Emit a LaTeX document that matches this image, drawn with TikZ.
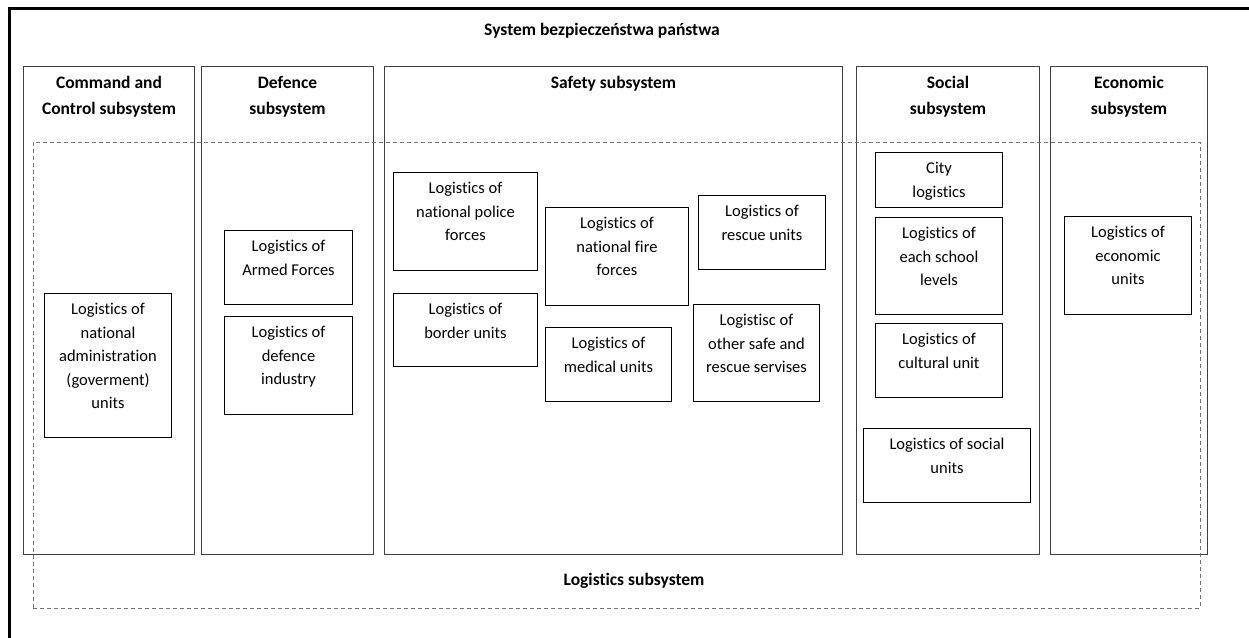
\documentclass[tikz,border=0pt]{standalone}
\usepackage{fontspec}
\setmainfont{Carlito}[Ligatures={NoCommon}]
\tikzset{
  sub/.style={draw=black!75, line width=1pt, anchor=north west, inner sep=0pt},
  lbox/.style={draw=black, line width=1pt, anchor=north west, inner sep=0pt},
  lbl/.style={font=\fontsize{16.5}{23.5}\selectfont, align=center, anchor=north, inner sep=0pt},
  hdr/.style={font=\bfseries\fontsize{17.5}{26}\selectfont, align=center, anchor=north, inner sep=0pt},
  logarea/.style={draw=black!55, line width=0.8pt, dash pattern=on 4pt off 3pt, anchor=north west, inner sep=0pt},
}
\newcommand\lb[6]{%
  \node[lbox, minimum width={(#4-#2)*1pt}, minimum height={(#5-#3)*1pt}] (#1) at (#2,#3) {};
  \node[lbl] (#1t) at ([yshift=-10pt]#1.north) {#6};
}
\newcommand\col[6]{%
  \node[sub, minimum width={(#4-#2)*1pt}, minimum height={(#5-#3)*1pt}] (#1) at (#2,#3) {};
  \node[hdr] (#1t) at ([yshift=-10pt]#1.north) {#6};
}
\begin{document}
\begin{tikzpicture}[x=1pt,y=-1pt]
\useasboundingbox (0,0) rectangle (1249,637);
\clip (0,0) rectangle (1249,637);
\node[draw=black, line width=2.5pt, anchor=north west, inner sep=0pt, minimum width=1320pt, minimum height=700pt] (frame) at (8,7) {};
\node[hdr, anchor=base] (title) at (602,35) {System bezpieczeństwa państwa};
\col{c1}{23}{66}{194}{554}{Command and\\Control subsystem}
\col{c2}{201}{66}{373}{554}{Defence\\subsystem}
\col{c3}{384}{66}{842}{554}{Safety subsystem}
\col{c4}{856}{66}{1039}{554}{Social\\subsystem}
\col{c5}{1050}{66}{1207}{554}{Economic\\subsystem}
\node[logarea, minimum width=1167pt, minimum height=466pt] (log) at (33,142) {};
\node[hdr, anchor=base] (logt) at (634,585) {Logistics subsystem};
\lb{adm}{44}{293}{171}{437}{Logistics of\\national\\administration\\(goverment)\\units}
\lb{arm}{224}{230}{352}{304}{Logistics of\\Armed Forces}
\lb{ind}{224}{316}{352}{414}{Logistics of\\defence\\industry}
\lb{pol}{393}{172}{537}{270}{Logistics of\\national police\\forces}
\lb{bor}{393}{293}{537}{366}{Logistics of\\border units}
\lb{fir}{545}{207}{688}{305}{Logistics of\\national fire\\forces}
\lb{med}{545}{327}{671}{401}{Logistics of\\medical units}
\lb{res}{698}{195}{825}{269}{Logistics of\\rescue units}
\lb{oth}{693}{304}{819}{401}{Logistisc of\\other safe and\\rescue servises}
\lb{cit}{875}{152}{1002}{207}{City\\logistics}
\lb{sch}{875}{217}{1002}{314}{Logistics of\\each school\\levels}
\lb{cul}{875}{323}{1002}{397}{Logistics of\\cultural unit}
\lb{soc}{863}{428}{1030}{502}{Logistics of social\\units}
\lb{eco}{1064}{216}{1191}{314}{Logistics of\\economic\\units}
\end{tikzpicture}
\end{document}
